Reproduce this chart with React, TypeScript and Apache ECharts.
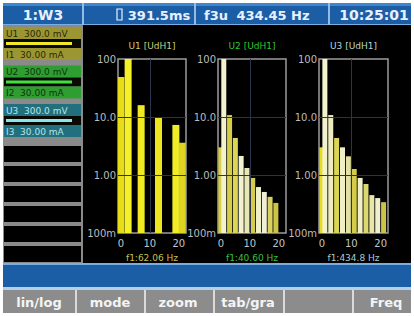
import { useEffect, useRef } from "react";
import * as echarts from "echarts";

// ---- data ----
const u1Orders = [0, 2.5, 7, 13, 19, 21.2];
const u1Values = [49, 100, 16, 10, 7.3, 3.6];
const u2Orders = [0, 1, 3, 5, 7, 9, 11, 13, 15, 17, 19];
const u2Values = [3.0, 100, 10.8, 4.35, 2.13, 1.32, 0.89, 0.62, 0.51, 0.42, 0.33];
const u3Orders = [0, 1, 3, 5, 7, 9, 11, 13, 15, 17, 19, 21];
const u3Values = [3.0, 100, 10.8, 4.35, 3.0, 2.1, 1.27, 0.89, 0.7, 0.45, 0.4, 0.34];
const xTickLabels = [0, 10, 20];
const panelTitles = ["U1 [UdH1]", "U2 [UdH1]", "U3 [UdH1]"];
const panelFreqs = ["f1:62.06 Hz", "f1:40.60 Hz", "f1:434.8 Hz"];
const channelLabels = [
  ["U1  300.0 mV", "I1  30.00 mA"],
  ["U2  300.0 mV", "I2  30.00 mA"],
  ["U3  300.0 mV", "I3  30.00 mA"],
];
const buttons = ["lin/log", "mode", "zoom", "tab/gra", "", "Freq"];
const headerTexts = ["1:W3", "391.5ms", "f3u", "434.45 Hz", "10:25:01"];

const FONT = "DejaVu Sans";

const c1 = ["#e6dc18", "#f4f02a", "#f0ea22", "#ece620", "#f0ec28", "#dcd420"];
const c2 = ["#d8d048", "#f2f2cc", "#d6ce46", "#dcd656", "#f2f2d0", "#e8e8b4", "#d4cc4a", "#f0f0c8", "#f0f0d8", "#d8d060", "#ccc444"];
const c3 = ["#e6dc20", "#f2f2cc", "#ececc0", "#dcd656", "#f0f0c8", "#e4e2a0", "#d4cc4a", "#f0f0c8", "#dcd870", "#e8e6a8", "#f0f0d0", "#ccc444"];

const grids = [
  { left: 118, top: 59, width: 68, height: 174 },
  { left: 218, top: 59, width: 68, height: 174 },
  { left: 319, top: 59, width: 69, height: 174 },
];
const barW = [7, 5, 5];

function makeBars(i: number, orders: number[], values: number[], colors: string[]) {
  return {
    type: "custom",
    xAxisIndex: i,
    yAxisIndex: i,
    clip: true,
    silent: true,
    data: orders.map((o, k) => [o, values[k], k]),
    encode: { x: 0, y: 1 },
    renderItem: (_p: any, api: any) => {
      const x = api.value(0);
      const v = api.value(1);
      const k = api.value(2);
      const top = api.coord([x, v]);
      const bot = api.coord([x, 0.1]);
      const w = barW[i];
      return {
        type: "rect",
        shape: { x: top[0] - w / 2, y: top[1], width: w, height: bot[1] - top[1] },
        style: { fill: colors[k % colors.length] },
      };
    },
  };
}

function guides(i: number) {
  return {
    type: "line",
    xAxisIndex: i,
    yAxisIndex: i,
    data: [],
    silent: true,
    markLine: {
      silent: true,
      symbol: "none",
      label: { show: false },
      lineStyle: { color: "#2a3448", type: "solid", width: 1 },
      data: [{ xAxis: 10 }, { yAxis: 10 }, { yAxis: 1 }],
    },
  };
}

function buildGraphics() {
  const g: any[] = [];
  // screen
  g.push({ type: "rect", z: -20, shape: { x: 3, y: 3, width: 408, height: 310 }, style: { fill: "#000" } });
  // header
  g.push({ type: "rect", z: -10, shape: { x: 3, y: 3, width: 408, height: 22 }, style: { fill: "#1c5ea6" } });
  g.push({ type: "rect", z: -9, shape: { x: 3, y: 3, width: 408, height: 3 }, style: { fill: "#3f86cc" } });
  g.push({ type: "rect", z: -9, shape: { x: 3, y: 24, width: 408, height: 1 }, style: { fill: "#7aaee0" } });
  [82, 194, 328].forEach((x) =>
    g.push({ type: "rect", z: -8, shape: { x, y: 3, width: 2, height: 22 }, style: { fill: "#92bce4" } })
  );
  const hStyle = { fill: "#e8f0ff", font: `bold 13px '${FONT}'`, align: "center", verticalAlign: "middle" };
  g.push({ type: "text", z: 10, style: { ...hStyle, x: 43, y: 15, text: headerTexts[0], font: `bold 14px '${FONT}'` } });
  g.push({ type: "rect", z: 10, shape: { x: 117, y: 9, width: 5, height: 11 }, style: { fill: "none", stroke: "#e8f0ff", lineWidth: 1.2 } });
  g.push({ type: "text", z: 10, style: { ...hStyle, x: 159, y: 15, text: headerTexts[1] } });
  g.push({ type: "text", z: 10, style: { ...hStyle, x: 216, y: 15, text: headerTexts[2] } });
  g.push({ type: "text", z: 10, style: { ...hStyle, x: 273, y: 15, text: headerTexts[3] } });
  g.push({ type: "text", z: 10, style: { ...hStyle, x: 374, y: 15, text: headerTexts[4], font: `bold 14px '${FONT}'` } });

  // left panel
  g.push({ type: "rect", z: -10, shape: { x: 3, y: 25, width: 80, height: 238 }, style: { fill: "#8a8a8a" } });
  const rowBg = ["#9c9632", "#2f9e30", "#22707e"];
  const rowTx = ["#2a2a08", "#0c360c", "#b8e4ea"];
  const lineC = ["#f0e828", "#40e040", "#8ae6ee"];
  for (let k = 0; k < 3; k++) {
    const y0 = 26 + 38.5 * k;
    g.push({ type: "rect", z: -8, shape: { x: 4, y: y0 + 1, width: 77, height: 12 }, style: { fill: rowBg[k] } });
    g.push({ type: "rect", z: -8, shape: { x: 4, y: y0 + 13, width: 77, height: 9 }, style: { fill: "#0a0a04" } });
    g.push({ type: "rect", z: -7, shape: { x: 6, y: y0 + 16, width: 66, height: 3 }, style: { fill: lineC[k] } });
    g.push({ type: "rect", z: -8, shape: { x: 4, y: y0 + 22, width: 77, height: 12 }, style: { fill: rowBg[k] } });
    g.push({ type: "text", z: 10, style: { x: 6, y: y0 + 7.5, text: channelLabels[k][0], fill: rowTx[k], font: `9px '${FONT}'`, verticalAlign: "middle" } });
    g.push({ type: "text", z: 10, style: { x: 6, y: y0 + 28.5, text: channelLabels[k][1], fill: rowTx[k], font: `9px '${FONT}'`, verticalAlign: "middle" } });
  }
  for (let j = 0; j < 6; j++) {
    g.push({ type: "rect", z: -8, shape: { x: 4, y: 146 + 20 * j, width: 77, height: 16 }, style: { fill: "#000" } });
  }

  // panel titles & freq
  const tColors = ["#cccc78", "#2ec82e", "#b4d8d8"];
  const fColors = ["#c8c050", "#3cc03c", "#a8cccc"];
  const centers = grids.map((gr) => gr.left + gr.width / 2);
  for (let k = 0; k < 3; k++) {
    g.push({ type: "text", z: 10, style: { x: centers[k], y: 46, text: panelTitles[k], fill: tColors[k], font: `9px '${FONT}'`, align: "center", verticalAlign: "middle" } });
    g.push({ type: "text", z: 10, style: { x: centers[k], y: 258, text: panelFreqs[k], fill: fColors[k], font: `9px '${FONT}'`, align: "center", verticalAlign: "middle" } });
  }

  // blue status bar
  g.push({ type: "rect", z: -10, shape: { x: 3, y: 263, width: 408, height: 27 }, style: { fill: "#1c5ea6" } });
  g.push({ type: "rect", z: -9, shape: { x: 3, y: 263, width: 408, height: 2 }, style: { fill: "#7aaee0" } });
  g.push({ type: "rect", z: -9, shape: { x: 3, y: 287, width: 408, height: 3 }, style: { fill: "#b0d0ec" } });
  // buttons
  g.push({ type: "rect", z: -10, shape: { x: 3, y: 290, width: 408, height: 23 }, style: { fill: "#8c8c8c" } });
  const divs = [75, 144, 213, 283, 352];
  divs.forEach((x) =>
    g.push({ type: "rect", z: -8, shape: { x, y: 290, width: 2, height: 23 }, style: { fill: "#dadada" } })
  );
  const bc = [39, 110, 178, 248, 317, 386];
  buttons.forEach((b, k) => {
    if (!b) return;
    g.push({ type: "text", z: 10, style: { x: bc[k], y: 302, text: b, fill: "#f4f4f4", font: `bold 13px '${FONT}'`, align: "center", verticalAlign: "middle" } });
  });
  return g;
}

export default function App() {
  const ref = useRef<HTMLDivElement>(null);
  useEffect(() => {
    if (!ref.current) return;
    const chart = echarts.init(ref.current, undefined, { renderer: "svg" });
    const yFmt = (v: number) => (v >= 100 ? "100" : v >= 10 ? "10.0" : v >= 1 ? "1.00" : "100m");
    chart.setOption({
      animation: false,
      backgroundColor: "#ffffff",
      graphic: buildGraphics(),
      grid: grids.map((gr) => ({ ...gr, show: true, borderColor: "#9c9c9c", borderWidth: 1.5, backgroundColor: "transparent", z: 1 })),
      xAxis: grids.map((_, i) => ({
        type: "value",
        gridIndex: i,
        min: -1,
        max: 22.5,
        axisLine: { show: false },
        axisTick: { show: false },
        splitLine: { show: false },
        axisLabel: { customValues: xTickLabels, color: "#c4c4c4", fontSize: 10, fontFamily: FONT, margin: 5 },
      })),
      yAxis: grids.map((_, i) => ({
        type: "log",
        logBase: 10,
        gridIndex: i,
        min: 0.1,
        max: 100,
        axisLine: { show: false },
        axisTick: { show: false },
        splitLine: { show: false },
        axisLabel: { formatter: yFmt, color: "#bcbcbc", fontSize: 10, fontFamily: FONT, margin: 2 },
      })),
      series: [
        guides(0),
        guides(1),
        guides(2),
        makeBars(0, u1Orders, u1Values, c1),
        makeBars(1, u2Orders, u2Values, c2),
        makeBars(2, u3Orders, u3Values, c3),
      ],
    });
    return () => chart.dispose();
  }, []);
  return <div ref={ref} style={{ position: "fixed", left: 0, top: 0, width: 414, height: 316 }} />;
}
